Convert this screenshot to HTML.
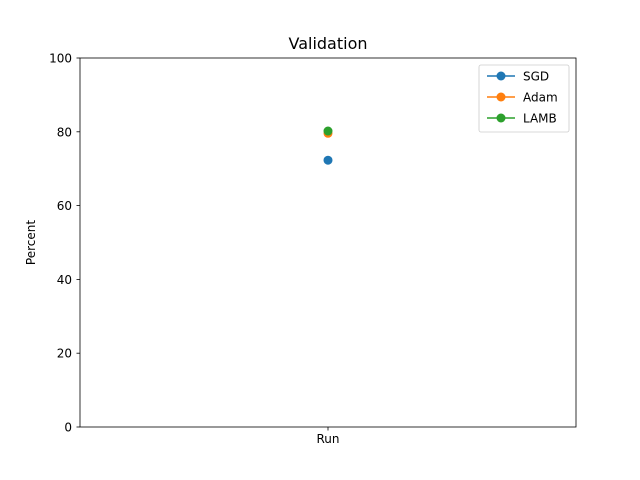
<!DOCTYPE html>
<html><head><meta charset="utf-8"><style>body{margin:0;background:#fff}svg{display:block;font-family:"DejaVu Sans","Liberation Sans",sans-serif}</style></head>
<body>
<svg id="chart" width="640" height="480">
<rect width="640" height="480" fill="#fff"/>
<text x="328" y="49" font-size="16" text-anchor="middle">Validation</text>
<g id="yaxis"></g>
<text transform="translate(35,242.5) rotate(-90)" font-size="12" text-anchor="middle">Percent</text>
<g id="marks"></g>
<rect x="80" y="58" width="496" height="369" fill="none" stroke="#000" stroke-width="0.8"/>
<line x1="328" y1="427" x2="328" y2="430.5" stroke="#000" stroke-width="0.8"/>
<text x="328" y="443" font-size="12" text-anchor="middle">Run</text>
<g>
<rect x="479" y="65" width="90" height="67" rx="2" fill="#fff" stroke="#ccc" stroke-width="0.8"/>
<g id="legend"></g>
</g>
</svg>
<script>
const series = ["SGD","Adam","LAMB"];
const values = [72.3, 79.6, 80.2];
const colors = ["#1f77b4","#ff7f0e","#2ca02c"];
const yTicks = [0,20,40,60,80,100];
const ns="http://www.w3.org/2000/svg";
const y=v=>427-v*3.69;
function mk(t,a,p){const e=document.createElementNS(ns,t);for(const k in a)e.setAttribute(k,a[k]);p.appendChild(e);return e;}
const ya=document.getElementById('yaxis');
yTicks.forEach(t=>{
 mk('line',{x1:76.5,x2:80,y1:y(t),y2:y(t),stroke:'#000','stroke-width':0.8},ya);
 const tx=mk('text',{x:72,y:y(t)+4.5,'font-size':12,'text-anchor':'end'},ya);tx.textContent=t;
 
 
});
const m=document.getElementById('marks'),lg=document.getElementById('legend');
series.forEach((s,i)=>{
 const c=mk('circle',{cx:328,cy:y(values[i]),r:4.5,fill:colors[i]},m);
 
 
 const ly=76+i*21;
 mk('line',{x1:487,x2:515,y1:ly,y2:ly,stroke:colors[i],'stroke-width':1.5},lg);
 mk('circle',{cx:501,cy:ly,r:4.5,fill:colors[i]},lg);
 const t=mk('text',{x:523,y:ly+4.5,'font-size':12},lg);t.textContent=s;
 
 
});
</script>
</body></html>
